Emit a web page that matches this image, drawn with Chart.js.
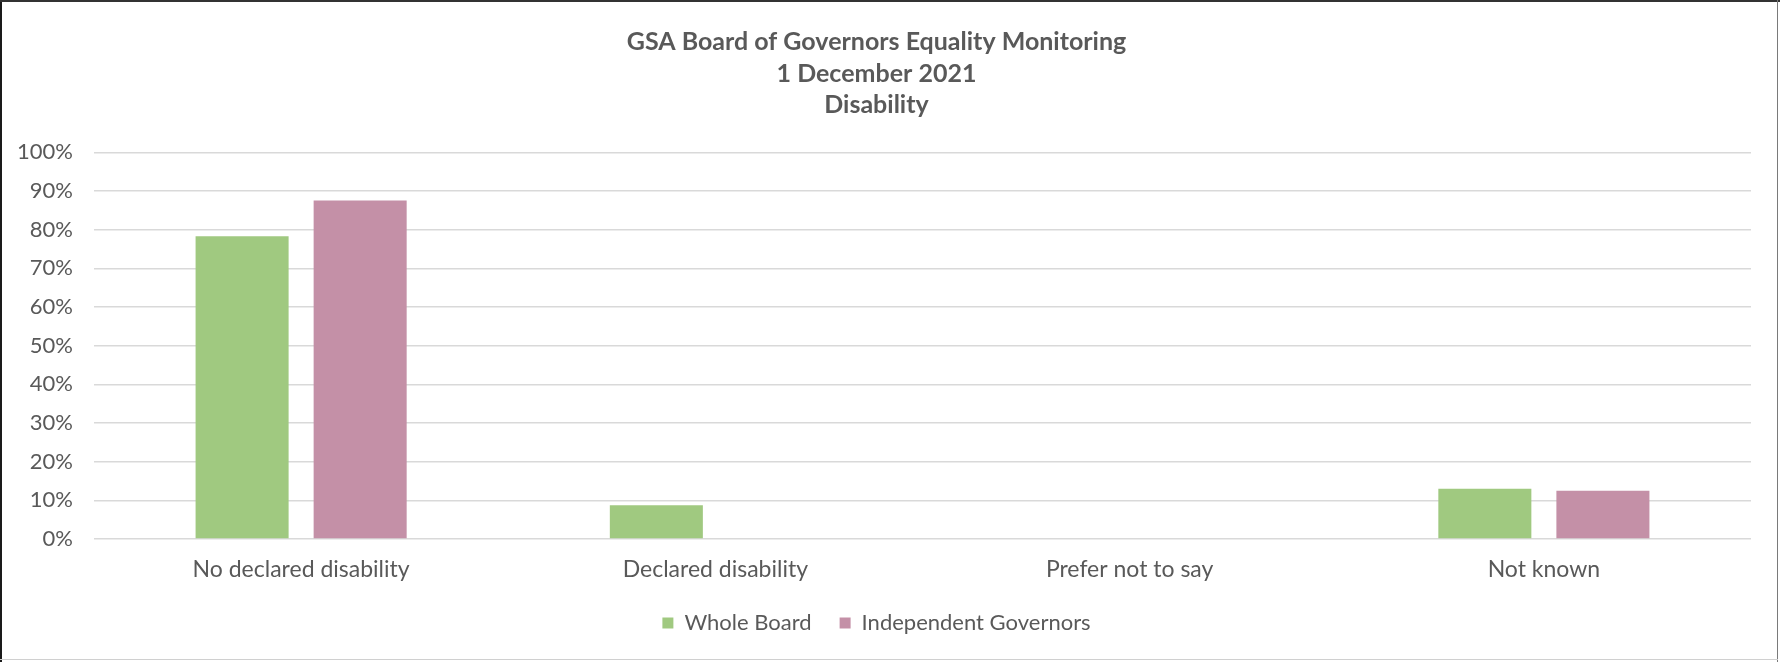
<!DOCTYPE html>
<html>
<head>
<meta charset="utf-8">
<script src="https://cdn.jsdelivr.net/npm/chart.js@4.4.1/dist/chart.umd.min.js"></script>
<style>
html,body{margin:0;padding:0;background:#fff;}
#wrap{position:relative;width:1780px;height:662px;}
canvas{display:block;}
</style>
</head>
<body>
<div id="wrap"><canvas id="c" width="1780" height="662"></canvas></div>
<script>
const titleLines = ["GSA Board of Governors Equality Monitoring", "1 December 2021", "Disability"];
const categories = ["No declared disability", "Declared disability", "Prefer not to say", "Not known"];
const wholeBoard = [0.783, 0.087, 0, 0.130];
const independentGovernors = [0.875, 0, 0, 0.125];
const seriesNames = ["Whole Board", "Independent Governors"];
const yTickStep = 0.1;

const FONT = "Lato, 'Open Sans', sans-serif";
const TXT = "#595959";

const borderPlugin = {
  id: 'frame',
  afterDraw(chart) {
    const ctx = chart.ctx;
    ctx.save();
    ctx.fillStyle = '#1a1a1a';
    ctx.fillRect(0, 0, 2, 662);
    ctx.fillStyle = '#333';
    ctx.fillRect(0, 0, 1780, 2);
    ctx.fillStyle = '#7a7a7a';
    ctx.fillRect(1777, 0, 1, 662);
    ctx.fillStyle = '#d0d0d0';
    ctx.fillRect(0, 659, 1778, 1);
    ctx.restore();
  }
};

new Chart(document.getElementById('c'), {
  type: 'bar',
  data: {
    labels: categories,
    datasets: [
      { label: seriesNames[0], data: wholeBoard, backgroundColor: '#A0C980', borderWidth: 0 },
      { label: seriesNames[1], data: independentGovernors, backgroundColor: '#C490A7', borderWidth: 0 }
    ]
  },
  options: {
    responsive: false,
    animation: false,
    devicePixelRatio: 1,
    layout: { padding: { left: 2, right: 29, top: 0, bottom: 18 } },
    datasets: { bar: { categoryPercentage: 0.57, barPercentage: 0.788 } },
    plugins: {
      title: {
        display: true,
        text: titleLines,
        color: TXT,
        font: { family: FONT, size: 25, weight: 'bold', lineHeight: 1.27 },
        padding: { top: 26, bottom: 31 }
      },
      legend: {
        position: 'bottom',
        labels: {
          color: TXT,
          font: { family: FONT, size: 22 },
          boxWidth: 11, boxHeight: 11,
          padding: 28
        }
      },
      tooltip: { enabled: false }
    },
    scales: {
      x: {
        afterFit(scale) { scale.height = 45; },
        grid: { display: false },
        border: { display: false },
        ticks: { color: TXT, font: { family: FONT, size: 23 }, padding: 9 }
      },
      y: {
        min: 0, max: 1,
        afterFit(scale) { scale.width = 92; },
        grid: { color: '#d9d9d9', lineWidth: 1.5, drawTicks: false },
        border: { display: false },
        ticks: {
          stepSize: yTickStep,
          color: TXT,
          font: { family: FONT, size: 22 },
          padding: 21,
          callback: v => Math.round(v * 100) + '%'
        }
      }
    }
  },
  plugins: [borderPlugin]
});
</script>
</body>
</html>
